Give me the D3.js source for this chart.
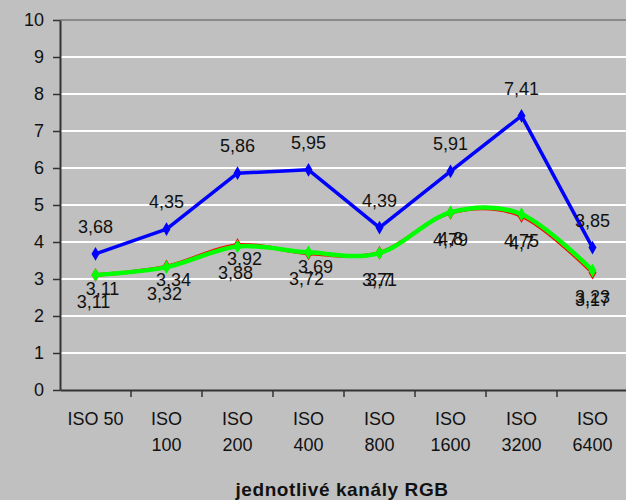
<!DOCTYPE html>
<html>
<head>
<meta charset="utf-8">
<script src="https://cdn.jsdelivr.net/npm/d3@7"></script>
<style>
	html, body { margin: 0; padding: 0; background: #c0c0c0; }
	svg { display: block; font-family: Arial, "Liberation Sans", sans-serif; }
</style>
</head>
<body>
<div id="chart"></div>
<script>
const categories = ["ISO 50", "ISO 100", "ISO 200", "ISO 400", "ISO 800", "ISO 1600", "ISO 3200", "ISO 6400"];
const blueValues = [3.68, 4.35, 5.86, 5.95, 4.39, 5.91, 7.41, 3.85];
const redValues = [3.11, 3.34, 3.92, 3.69, 3.71, 4.79, 4.7, 3.17];
const greenValues = [3.11, 3.32, 3.88, 3.72, 3.7, 4.8, 4.75, 3.23];
const yTicks = [0, 1, 2, 3, 4, 5, 6, 7, 8, 9, 10];
const axisTitle = "jednotlivé kanály RGB";

const width = 626;
const height = 500;
const margin = { top: 20, right: -2, bottom: 110, left: 60 };

const svg = d3
	.select("#chart")
	.append("svg")
	.attr("width", width)
	.attr("height", height);

svg.append("rect").attr("width", width).attr("height", height).attr("fill", "#c0c0c0");

const x = d3
	.scaleBand()
	.domain(categories)
	.range([margin.left, width - margin.right]);

const y = d3
	.scaleLinear()
	.domain([0, 10])
	.range([height - margin.bottom, margin.top]);

// gridlines
svg.append("g")
	.selectAll("line")
	.data(yTicks.filter((t) => t > 0 && t < 10))
	.join("line")
	.attr("x1", margin.left)
	.attr("x2", width)
	.attr("y1", (d) => y(d))
	.attr("y2", (d) => y(d))
	.attr("stroke", "#ffffff")
	.attr("stroke-width", 2);

// plot area top border
svg.append("line")
	.attr("x1", margin.left)
	.attr("x2", width)
	.attr("y1", y(10))
	.attr("y2", y(10))
	.attr("stroke", "#8a8a8a")
	.attr("stroke-width", 2);

// y axis
const yAxis = svg
	.append("g")
	.attr("transform", `translate(${margin.left},0)`)
	.call(d3.axisLeft(y).tickValues(yTicks).tickSize(7).tickPadding(9).tickSizeOuter(0));
yAxis.select(".domain").attr("stroke", "#333").attr("stroke-width", 2);
yAxis.selectAll(".tick line").attr("stroke", "#333").attr("stroke-width", 1.5);
yAxis.selectAll(".tick text").attr("font-size", 18).attr("fill", "#111").attr("font-family", "Arial, 'Liberation Sans', sans-serif");

// x axis
const xAxis = svg
	.append("g")
	.attr("transform", `translate(0,${y(0)})`)
	.call(d3.axisBottom(x).tickSize(0).tickSizeOuter(0).tickFormat(""));
xAxis.select(".domain").attr("stroke", "#333").attr("stroke-width", 2);
xAxis.selectAll(".tick").remove();

// ticks between categories
svg.append("g")
	.selectAll("line")
	.data(categories.slice(1))
	.join("line")
	.attr("x1", (d) => x(d))
	.attr("x2", (d) => x(d))
	.attr("y1", y(0))
	.attr("y2", y(0) + 7)
	.attr("stroke", "#333")
	.attr("stroke-width", 1.5);

// category labels, wrapped when too wide
const catLabels = svg
	.append("g")
	.attr("font-size", 18)
	.attr("fill", "#111")
	.attr("text-anchor", "middle")
	.selectAll("text")
	.data(categories)
	.join("text")
	.attr("x", (d) => x(d) + x.bandwidth() / 2)
	.attr("y", y(0) + 35);

catLabels.each(function (d) {
	const t = d3.select(this);
	t.text(d);
	if (this.getComputedTextLength() > 60) {
		t.text(null);
		d.split(" ").forEach((w, i) => {
			t.append("tspan")
				.attr("x", x(d) + x.bandwidth() / 2)
				.attr("dy", i === 0 ? 0 : 26)
				.text(w);
		});
	}
});

// axis title
svg.append("text")
	.attr("x", (margin.left + width) / 2 - 1)
	.attr("y", height - 4)
	.attr("text-anchor", "middle")
	.attr("font-size", 19)
	.attr("font-weight", "bold")
	.attr("letter-spacing", 0.6)
	.attr("fill", "#111")
	.text(axisTitle);

const cx = (i) => x(categories[i]) + x.bandwidth() / 2;
const fmt = (v) => String(v).replace(".", ",");

const series = [
	{ values: blueValues, color: "#0000ff", width: 3.5, curve: d3.curveLinear },
	{ values: redValues, color: "#ff0000", width: 3.5, curve: d3.curveCatmullRom.alpha(0) },
	{ values: greenValues, color: "#00ff00", width: 4.5, curve: d3.curveCatmullRom.alpha(0) },
];

series.forEach((s) => {
	const line = d3
		.line()
		.x((d, i) => cx(i))
		.y((d) => y(d))
		.curve(s.curve);

	svg.append("path")
		.datum(s.values)
		.attr("fill", "none")
		.attr("stroke", s.color)
		.attr("stroke-width", s.width)
		.attr("stroke-linejoin", "round")
		.attr("d", line);

	svg.append("g")
		.selectAll("path")
		.data(s.values)
		.join("path")
		.attr("transform", (d, i) => `translate(${cx(i)},${y(d)})`)
		.attr("d", d3.symbol(d3.symbolDiamond, 55))
		.attr("fill", s.color);
});

// data labels
const labels = svg.append("g").attr("font-size", 18).attr("fill", "#111").attr("text-anchor", "middle");

labels.selectAll(".lb")
	.data(blueValues)
	.join("text")
	.attr("class", "lb")
	.attr("x", (d, i) => cx(i))
	.attr("y", (d) => y(d) - 21)
	.text(fmt);

// red labels sit a little up-right of the green ones on the left half (Excel placement)
labels.selectAll(".lr")
	.data(redValues)
	.join("text")
	.attr("class", "lr")
	.attr("x", (d, i) => cx(i) + (i < 4 ? 7 : 0))
	.attr("y", (d, i) => y(d) + (i < 4 ? 20 : 33))
	.text(fmt);

labels.selectAll(".lg")
	.data(greenValues)
	.join("text")
	.attr("class", "lg")
	.attr("x", (d, i) => cx(i) - (i < 4 ? 2 : 0))
	.attr("y", (d) => y(d) + 33)
	.text(fmt);
</script>
</body>
</html>
